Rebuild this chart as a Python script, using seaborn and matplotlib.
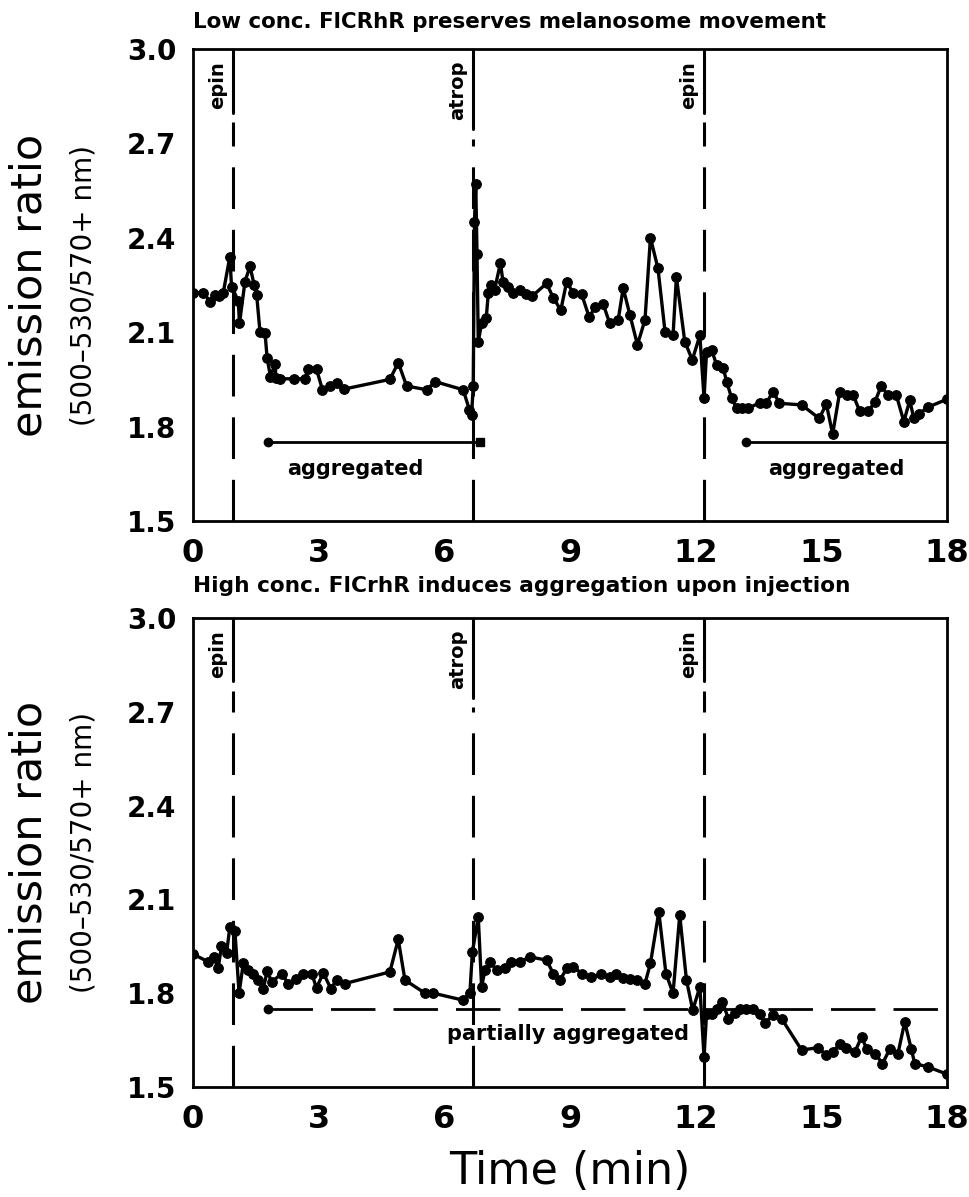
import matplotlib
matplotlib.use("Agg")
import matplotlib.pyplot as plt
import seaborn as sns
import pandas as pd

# ---------------- data ----------------
low_time = [0.0, 0.25, 0.41, 0.52, 0.62, 0.72, 0.88, 0.92, 1.08, 1.11,
            1.24, 1.36, 1.46, 1.52, 1.6, 1.72, 1.77, 1.85, 1.96, 1.98,
            2.08, 2.4, 2.67, 2.75, 2.95, 3.09, 3.27, 3.43, 3.6, 4.7,
            4.9, 5.1, 5.58, 5.78, 6.45, 6.6, 6.65, 6.69, 6.72, 6.75,
            6.78, 6.81, 6.89, 7.0, 7.05, 7.12, 7.2, 7.34, 7.4, 7.53,
            7.65, 7.8, 7.95, 8.1, 8.44, 8.6, 8.78, 8.92, 9.08, 9.28,
            9.46, 9.6, 9.79, 9.95, 10.15, 10.27, 10.43, 10.61, 10.79, 10.92,
            11.1, 11.27, 11.46, 11.54, 11.74, 11.92, 12.1, 12.2, 12.26, 12.38,
            12.5, 12.66, 12.74, 12.86, 12.98, 13.1, 13.25, 13.53, 13.69, 13.85,
            14.0, 14.53, 14.95, 15.12, 15.27, 15.44, 15.62, 15.76, 15.92, 16.12,
            16.28, 16.43, 16.59, 16.79, 16.97, 17.11, 17.21, 17.32, 17.55, 18.0]
low_ratio = [2.226, 2.225, 2.197, 2.218, 2.215, 2.224, 2.34, 2.245, 2.20, 2.128,
             2.26, 2.31, 2.25, 2.218, 2.10, 2.097, 2.017, 1.959, 2.0, 1.955,
             1.952, 1.952, 1.952, 1.982, 1.982, 1.917, 1.929, 1.937, 1.919, 1.95,
             2.003, 1.929, 1.917, 1.943, 1.917, 1.853, 1.837, 1.929, 2.45, 2.57,
             2.35, 2.07, 2.128, 2.145, 2.224, 2.25, 2.235, 2.32, 2.26, 2.245,
             2.225, 2.234, 2.22, 2.215, 2.255, 2.21, 2.17, 2.26, 2.224, 2.22,
             2.147, 2.181, 2.19, 2.128, 2.139, 2.24, 2.155, 2.06, 2.139, 2.40,
             2.303, 2.10, 2.09, 2.276, 2.07, 2.012, 2.09, 1.89, 2.038, 2.044,
             1.996, 1.985, 1.943, 1.89, 1.858, 1.858, 1.858, 1.876, 1.876, 1.911,
             1.874, 1.869, 1.826, 1.872, 1.776, 1.911, 1.90, 1.90, 1.848, 1.848,
             1.879, 1.929, 1.90, 1.90, 1.816, 1.883, 1.826, 1.84, 1.862, 1.887]

high_time = [0.0, 0.37, 0.49, 0.6, 0.68, 0.8, 0.88, 1.0, 1.1, 1.2,
             1.32, 1.44, 1.56, 1.68, 1.77, 1.88, 2.12, 2.27, 2.47, 2.63,
             2.83, 2.95, 3.11, 3.29, 3.43, 3.63, 4.7, 4.9, 5.06, 5.54,
             5.74, 6.44, 6.61, 6.67, 6.81, 6.89, 6.97, 7.09, 7.25, 7.45,
             7.6, 7.8, 8.04, 8.44, 8.6, 8.76, 8.92, 9.08, 9.28, 9.51,
             9.75, 9.95, 10.11, 10.27, 10.43, 10.59, 10.79, 10.92, 11.12, 11.29,
             11.46, 11.62, 11.78, 11.93, 12.1, 12.2, 12.26, 12.38, 12.5, 12.64,
             12.78, 12.94, 13.07, 13.21, 13.37, 13.53, 13.65, 13.85, 14.05, 14.53,
             14.92, 15.12, 15.27, 15.44, 15.6, 15.8, 15.96, 16.08, 16.28, 16.46,
             16.63, 16.83, 16.99, 17.15, 17.23, 17.55, 18.0]
high_ratio = [1.925, 1.90, 1.916, 1.879, 1.95, 1.927, 2.012, 2.0, 1.80, 1.895,
              1.874, 1.863, 1.842, 1.815, 1.871, 1.836, 1.863, 1.831, 1.844, 1.863,
              1.863, 1.817, 1.865, 1.815, 1.842, 1.831, 1.868, 1.972, 1.842, 1.80,
              1.80, 1.778, 1.80, 1.932, 2.044, 1.82, 1.874, 1.90, 1.874, 1.879,
              1.90, 1.90, 1.916, 1.906, 1.863, 1.842, 1.879, 1.884, 1.863, 1.852,
              1.86, 1.852, 1.863, 1.85, 1.844, 1.842, 1.831, 1.895, 2.06, 1.863,
              1.80, 2.05, 1.842, 1.746, 1.82, 1.596, 1.735, 1.735, 1.751, 1.772,
              1.719, 1.737, 1.75, 1.751, 1.748, 1.735, 1.705, 1.73, 1.719, 1.618,
              1.626, 1.602, 1.612, 1.637, 1.626, 1.612, 1.66, 1.623, 1.607, 1.575,
              1.62, 1.607, 1.708, 1.62, 1.575, 1.564, 1.541]

event_times = [0.95, 6.69, 12.2]
event_labels = ["epin", "atrop", "epin"]

titles = ["Low conc. FlCRhR preserves melanosome movement",
          "High conc. FlCrhR induces aggregation upon injection"]

x_ticks = [0, 3, 6, 9, 12, 15, 18]
y_ticks = [1.5, 1.8, 2.1, 2.4, 2.7, 3.0]

# annotation bars: (start, end, level)
low_bars = [(1.8, 6.85, 1.75), (13.2, 18.0, 1.75)]
low_bar_text = [(3.87, "aggregated"), (15.36, "aggregated")]
high_bar = (1.8, 18.0, 1.75)
high_bar_text = (8.95, "partially aggregated")

# ---------------- style ----------------
sns.set_style("white")
plt.rcParams["font.family"] = ["DejaVu Sans"]
plt.rcParams["text.color"] = "black"
plt.rcParams["lines.scale_dashes"] = False

fig = plt.figure(figsize=(9.7, 11.97), dpi=100)
W, H = 970, 1197
ax_top = fig.add_axes([193 / W, 1 - 521 / H, 754 / W, 472 / H])
ax_bot = fig.add_axes([193 / W, 1 - 1087 / H, 754 / W, 469 / H])

dash = (0, (30, 15))

def style_axis(ax):
    ax.set_xlim(0, 18)
    ax.set_ylim(1.5, 3.0)
    ax.set_xticks(x_ticks)
    ax.set_yticks(y_ticks)
    ax.set_yticklabels([f"{v:.1f}" for v in y_ticks])
    for s in ax.spines.values():
        s.set_linewidth(2.0)
        s.set_color("black")
    ax.tick_params(axis="both", direction="inout", length=14, width=2.0,
                   colors="black")
    ax.tick_params(axis="y", labelsize=20, pad=5)
    ax.tick_params(axis="x", labelsize=23, pad=5)
    for lab in ax.get_yticklabels():
        lab.set_fontweight("bold")
    for lab in ax.get_xticklabels():
        lab.set_fontweight("semibold")
    ax.set_xlabel("")
    ax.set_ylabel("")

def draw_events(ax, label_bottom):
    for t, lab, lb in zip(event_times, event_labels, label_bottom):
        ax.axvline(t, ymin=0, ymax=lb - 0.02, color="black", lw=2.2,
                   linestyle=dash)
        ax.axvline(t, ymin=lb, ymax=1, color="black", lw=2.2)
        ax.text(t - 0.14, 2.962, lab, rotation=90, ha="right", va="top",
                fontsize=14, fontweight="bold")

# top panel
df_low = pd.DataFrame({"time": low_time, "ratio": low_ratio})
draw_events(ax_top, [0.865, 0.83, 0.865])
sns.lineplot(data=df_low, x="time", y="ratio", ax=ax_top, color="black",
             lw=2.4, marker="o", markersize=7, markeredgecolor="black",
             estimator=None)
for (s, e, lv) in low_bars:
    ax_top.plot([s, e], [lv, lv], color="black", lw=2.0)
ax_top.plot([low_bars[0][0], low_bars[1][0]], [low_bars[0][2]] * 2, ls="none",
            marker="o", ms=6, color="black")
ax_top.plot([low_bars[0][1]], [low_bars[0][2]], ls="none", marker="s", ms=6,
            color="black")
for (t, txt) in low_bar_text:
    ax_top.text(t, 1.665, txt, ha="center", va="center", fontsize=15,
                fontweight="bold")
style_axis(ax_top)

# bottom panel
df_high = pd.DataFrame({"time": high_time, "ratio": high_ratio})
draw_events(ax_bot, [0.865, 0.83, 0.865])
sns.lineplot(data=df_high, x="time", y="ratio", ax=ax_bot, color="black",
             lw=2.4, marker="o", markersize=7, markeredgecolor="black",
             estimator=None)
ax_bot.plot([high_bar[0], high_bar[1]], [high_bar[2]] * 2, color="black",
            lw=2.0, linestyle=(0, (32, 13)))
ax_bot.plot([high_bar[0]], [high_bar[2]], ls="none", marker="o", ms=6,
            color="black")
ax_bot.text(high_bar_text[0], 1.67, high_bar_text[1], ha="center",
            va="center", fontsize=15, fontweight="bold")
style_axis(ax_bot)

# titles
fig.text(193 / W, 1 - 22 / H, titles[0], ha="left", va="center",
         fontsize=15.4, fontweight="bold")
fig.text(193 / W, 1 - 586 / H, titles[1], ha="left", va="center",
         fontsize=15.6, fontweight="bold")

# y labels
for yc in [(49 + 521) / 2, (618 + 1087) / 2]:
    fig.text(30 / W, 1 - yc / H, "emission ratio", rotation=90, ha="center",
             va="center", fontsize=31)
    fig.text(84 / W, 1 - yc / H, "(500\u2013530/570+ nm)", rotation=90,
             ha="center", va="center", fontsize=20)

fig.text(570 / W, 1 - 1172 / H, "Time (min)", ha="center", va="center",
         fontsize=32)

fig.savefig("out.png", dpi=100)
